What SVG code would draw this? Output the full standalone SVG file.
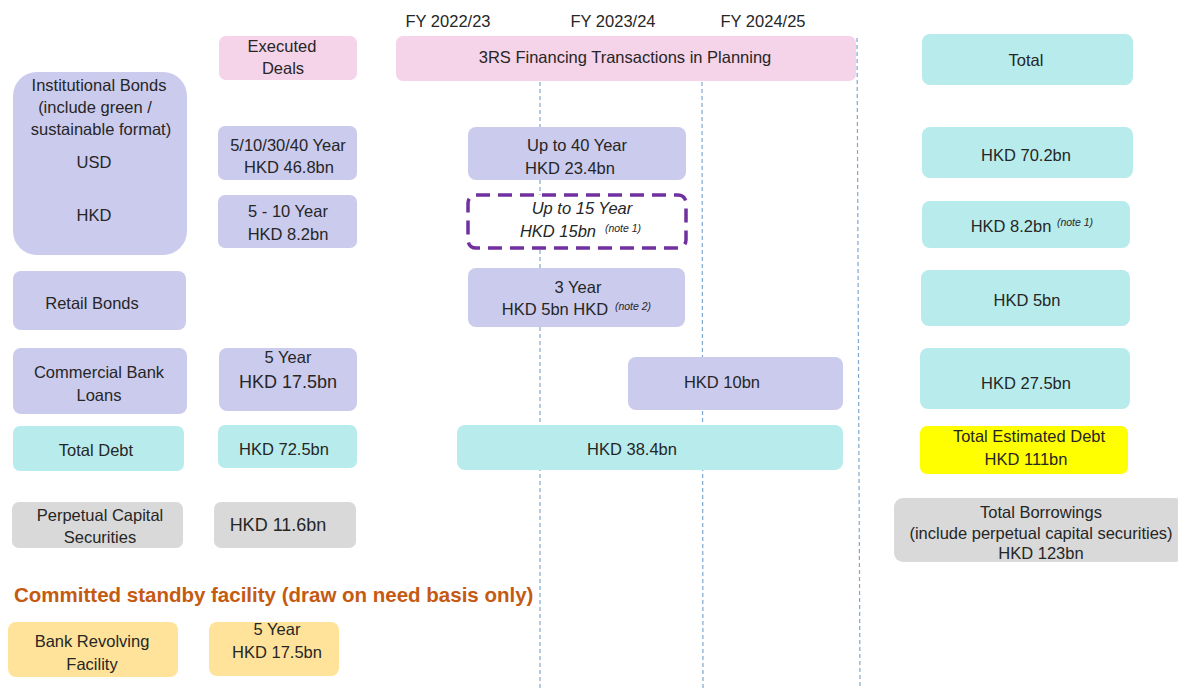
<svg xmlns="http://www.w3.org/2000/svg" width="1178" height="689" viewBox="0 0 1178 689">
<style>
text{font-family:"Liberation Sans",Arial,sans-serif;font-size:16.5px;fill:#262626;text-anchor:middle}
.pk{fill:#f5d3e9}.lv{fill:#cbcbee}.cy{fill:#b8ecec}.gy{fill:#d9d9d9}.yl{fill:#ffff00}.or{fill:#ffe39a}
text.sup{font-size:10.5px;font-style:italic}
text.it{font-style:italic}
text.big{font-size:18px}
text.head{font-size:20.5px;font-weight:bold;fill:#c55a11;text-anchor:start}
.grid{stroke:#7fa7cf;stroke-width:1.2;stroke-dasharray:4 3;fill:none}
</style>
<rect width="1178" height="689" fill="#fff"/>
<g id="connectors">
<line class="grid" x1="540" y1="82" x2="540" y2="689"/>
<line class="grid" x1="702" y1="82" x2="703" y2="689"/>
<line class="grid" x1="857" y1="38" x2="860" y2="689"/>
</g>
<g id="fy-labels">
<text x="448" y="27">FY 2022/23</text>
<text x="613" y="27">FY 2023/24</text>
<text x="763" y="27">FY 2024/25</text>
</g>
<g id="executed"><rect class="pk" x="219" y="36" width="138" height="44" rx="7"/><text x="282" y="52">Executed</text><text x="283" y="74">Deals</text></g>
<g id="planning"><rect class="pk" x="396" y="36" width="460" height="45" rx="7"/><text x="625" y="63">3RS Financing Transactions in Planning</text></g>
<g id="total"><rect class="cy" x="922" y="34" width="211" height="51" rx="8"/><text x="1026" y="66">Total</text></g>
<g id="inst-bonds"><rect class="lv" x="13" y="72" width="174" height="183" rx="24"/>
<text x="99" y="91">Institutional Bonds</text><text x="95" y="113">(include green /</text><text x="101" y="135">sustainable format)</text>
<text x="94" y="168">USD</text><text x="94" y="221">HKD</text></g>
<g id="usd-exec"><rect class="lv" x="218" y="126" width="139" height="54" rx="7"/><text x="288" y="151">5/10/30/40 Year</text><text x="289" y="173">HKD 46.8bn</text></g>
<g id="hkd-exec"><rect class="lv" x="218" y="195" width="139" height="53" rx="7"/><text x="288" y="217">5 - 10 Year</text><text x="288" y="240">HKD 8.2bn</text></g>
<g id="usd-plan"><rect class="lv" x="468" y="127" width="218" height="53" rx="8"/><text x="577" y="151">Up to 40 Year</text><text x="570" y="174">HKD 23.4bn</text></g>
<g id="hkd-plan"><rect x="468" y="195" width="218" height="53" rx="8" fill="#fff" stroke="#7030a0" stroke-width="3.5" stroke-dasharray="14 8"/>
<text class="it" x="582" y="214">Up to 15 Year</text><text class="it" x="558" y="237">HKD 15bn</text><text class="sup" x="623" y="232">(note 1)</text></g>
<g id="usd-total"><rect class="cy" x="922" y="127" width="211" height="51" rx="8"/><text x="1026" y="161">HKD 70.2bn</text></g>
<g id="hkd-total"><rect class="cy" x="922" y="201" width="208" height="47" rx="8"/><text x="1011" y="232">HKD 8.2bn</text><text class="sup" x="1075" y="226">(note 1)</text></g>
<g id="retail"><rect class="lv" x="13" y="271" width="173" height="59" rx="8"/><text x="92" y="309">Retail Bonds</text></g>
<g id="retail-plan"><rect class="lv" x="468" y="268" width="217" height="59" rx="8"/><text x="578" y="293">3 Year</text><text x="555" y="315">HKD 5bn HKD</text><text class="sup" x="633" y="310">(note 2)</text></g>
<g id="retail-total"><rect class="cy" x="921" y="270" width="209" height="56" rx="8"/><text x="1027" y="306">HKD 5bn</text></g>
<g id="cbl"><rect class="lv" x="13" y="348" width="174" height="66" rx="8"/><text x="99" y="378">Commercial Bank</text><text x="99" y="401">Loans</text></g>
<g id="cbl-exec"><rect class="lv" x="219" y="348" width="138" height="63" rx="8"/><text x="288" y="363">5 Year</text><text class="big" x="288" y="388">HKD 17.5bn</text></g>
<g id="cbl-plan"><rect class="lv" x="628" y="357" width="215" height="53" rx="8"/><text x="722" y="388">HKD 10bn</text></g>
<g id="cbl-total"><rect class="cy" x="920" y="348" width="210" height="61" rx="8"/><text x="1026" y="389">HKD 27.5bn</text></g>
<g id="total-debt"><rect class="cy" x="13" y="426" width="171" height="45" rx="7"/><text x="96" y="456">Total Debt</text></g>
<g id="td-exec"><rect class="cy" x="218" y="425" width="139" height="43" rx="7"/><text x="284" y="455">HKD 72.5bn</text></g>
<g id="td-plan"><rect class="cy" x="457" y="425" width="386" height="45" rx="8"/><text x="632" y="455">HKD 38.4bn</text></g>
<g id="td-total"><rect class="yl" x="920" y="426" width="208" height="48" rx="7"/><text x="1029" y="442">Total Estimated Debt</text><text x="1026" y="465">HKD 111bn</text></g>
<g id="perp"><rect class="gy" x="12" y="502" width="171" height="46" rx="7"/><text x="100" y="521">Perpetual Capital</text><text x="100" y="543">Securities</text></g>
<g id="perp-exec"><rect class="gy" x="214" y="502" width="142" height="46" rx="7"/><text class="big" x="278" y="531">HKD 11.6bn</text></g>
<g id="borrowings"><rect class="gy" x="894" y="498" width="290" height="64" rx="9"/><text x="1041" y="518">Total Borrowings</text><text x="1041" y="539">(include perpetual capital securities)</text><text x="1041" y="559">HKD 123bn</text></g>
<text class="head" x="14" y="602">Committed standby facility (draw on need basis only)</text>
<g id="revolving"><rect class="or" x="8" y="622" width="170" height="55" rx="8"/><text x="92" y="647">Bank Revolving</text><text x="92" y="670">Facility</text></g>
<g id="revolving-exec"><rect class="or" x="209" y="622" width="130" height="54" rx="8"/><text x="277" y="635">5 Year</text><text x="277" y="658">HKD 17.5bn</text></g>
</svg>
